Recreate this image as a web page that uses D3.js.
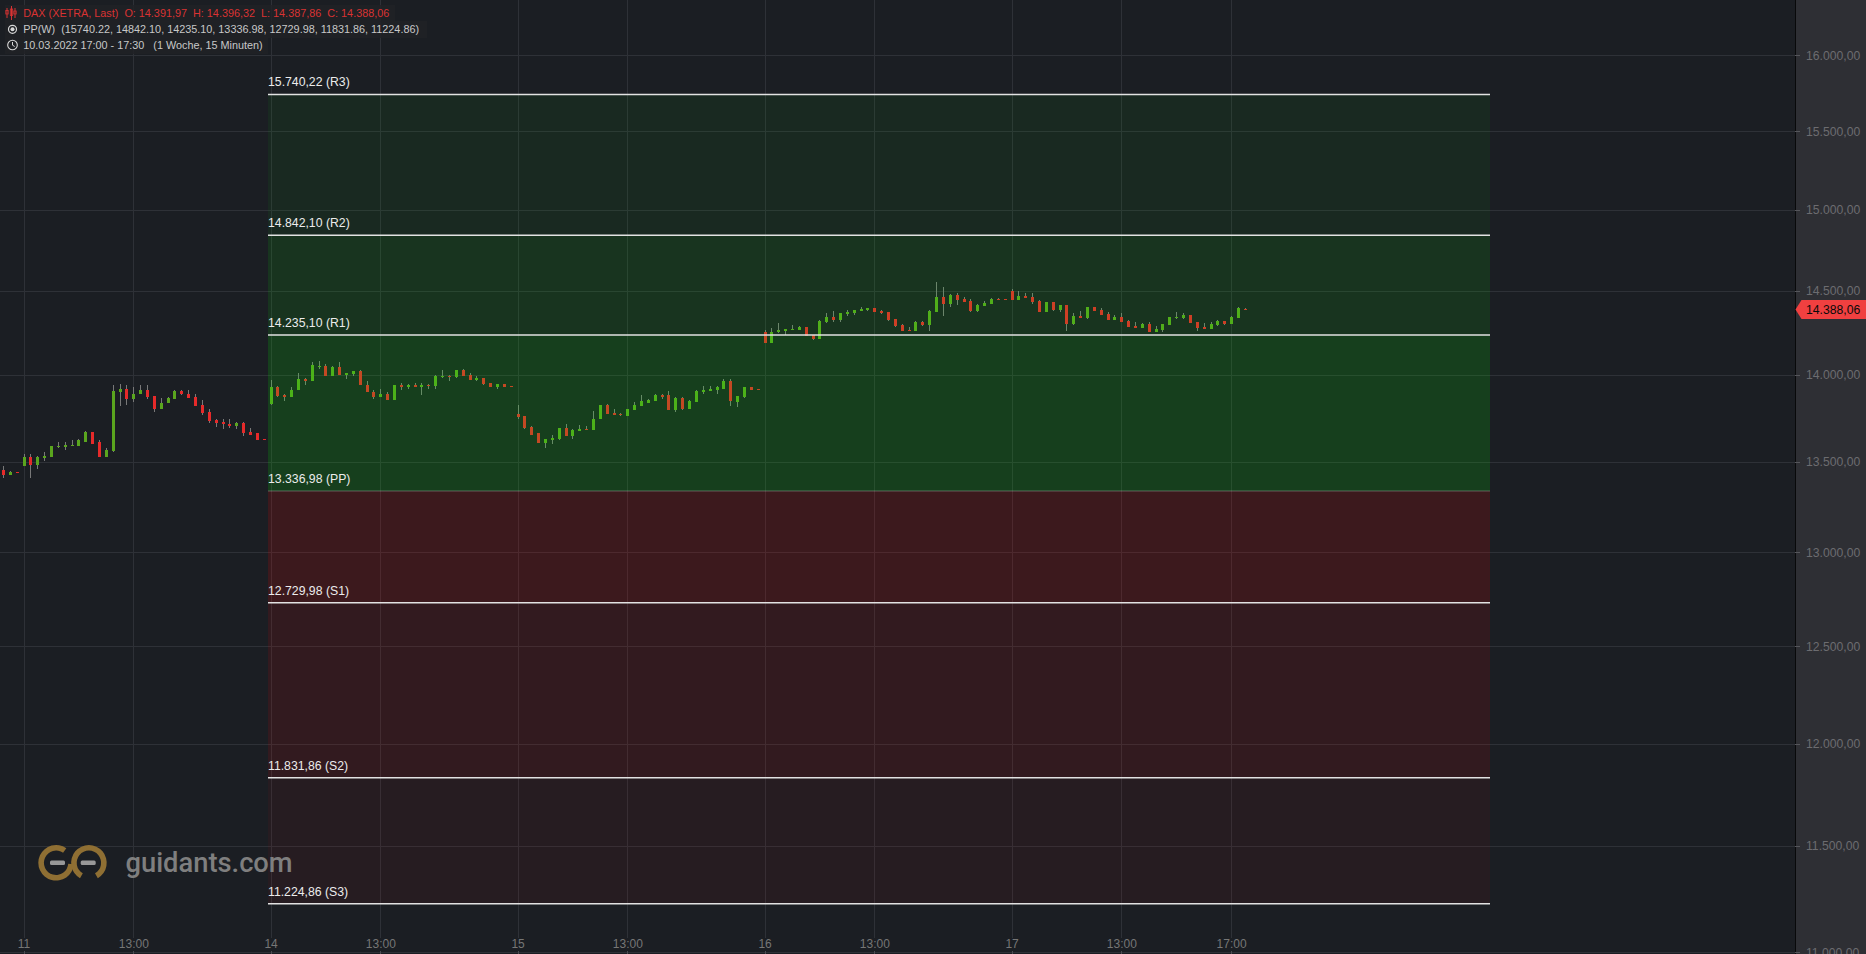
<!DOCTYPE html>
<html><head><meta charset="utf-8"><title>DAX</title>
<script src="https://cdn.jsdelivr.net/npm/d3@7/dist/d3.min.js"></script>
<style>html,body{margin:0;padding:0;background:#1b1e23;overflow:hidden}svg{display:block}text{font-family:"Liberation Sans",Arial,sans-serif}</style>
</head><body><svg id="c" width="1866" height="954"></svg>
<script>
// slot of the first candle relative to the "11" tick is -3; every day has 36 slots
const firstSlot = -3;
const opens = [13455,13426,13443,
13478,13528,13484,13524,13530,13587,13587,13593,13593,13616,13668,13616,13530,13564,13898,13916,13858,13887,13910,13875,13800,13835,13858,13904,13892,13869,13823,13783,13737,13725,13714,13702,13720,13668,13662,13633,
13829,13927,13881,13869,13910,13979,13967,14048,14054,13996,14048,14002,14008,14025,13944,13898,13869,13892,13852,13939,13927,13944,13927,13939,13933,13990,13996,13990,14031,14002,13973,13985,13956,13927,13950,13933,
13771,13760,13697,13662,13610,13627,13633,13691,13650,13674,13685,13679,13743,13823,13777,13771,13760,13795,13818,13835,13846,13881,13881,13795,13864,13800,13841,13898,13904,13915,13921,13967,13841,13869,13927,13921,
14253,14187,14253,14258,14264,14264,14282,14235,14211,14312,14342,14324,14359,14365,14377,14383,14395,14377,14371,14330,14294,14264,14258,14312,14294,14371,14466,14419,14478,14449,14437,14377,14407,14419,14454,14449,
14502,14448,14472,14466,14437,14371,14431,14383,14413,14300,14348,14336,14401,14383,14359,14324,14342,14318,14288,14276,14300,14252,14264,14294,14336,14336,14353,14312,14282,14270,14294,14318,14300,14336,14391.97];
const highs = [13478,13449,13443,
13547,13547,13535,13558,13593,13616,13616,13627,13633,13674,13668,13627,13581,13944,13950,13939,13927,13939,13944,13875,13864,13869,13910,13910,13910,13892,13852,13800,13743,13743,13743,13725,13725,13691,13662,13633,
13973,13933,13887,13927,14013,13985,14077,14083,14065,14054,14077,14013,14025,14031,13967,13910,13916,13898,13939,13956,13950,13956,13956,13950,14002,14031,14002,14031,14037,14013,13996,13985,13956,13950,13950,13933,
13823,13760,13702,13662,13633,13656,13691,13714,13685,13708,13702,13789,13823,13829,13800,13777,13800,13841,13881,13858,13892,13892,13904,13869,13869,13852,13910,13933,13933,13933,13979,13979,13875,13927,13927,13921,
14264,14276,14306,14270,14294,14288,14282,14235,14324,14365,14377,14365,14383,14383,14401,14395,14395,14383,14371,14330,14300,14282,14318,14318,14383,14555,14526,14484,14490,14466,14449,14419,14437,14460,14460,14449,
14514,14502,14490,14490,14448,14431,14431,14413,14413,14365,14377,14401,14401,14395,14371,14353,14365,14324,14312,14306,14312,14288,14300,14342,14371,14365,14353,14312,14306,14312,14324,14318,14348,14401,14396.32];
const lows = [13411,13426,13439,
13478,13411,13461,13507,13530,13581,13570,13593,13593,13616,13604,13530,13530,13558,13818,13823,13841,13887,13858,13783,13800,13835,13858,13881,13864,13818,13766,13720,13697,13685,13691,13685,13645,13651,13627,13627,
13823,13869,13846,13869,13910,13944,13967,14037,13996,13996,14002,13979,13996,13939,13898,13858,13869,13852,13852,13910,13921,13927,13881,13921,13916,13985,13967,13985,13996,13973,13967,13944,13927,13921,13927,13927,
13743,13685,13656,13610,13581,13604,13622,13650,13633,13674,13679,13679,13743,13771,13766,13760,13760,13795,13818,13835,13846,13858,13795,13783,13795,13800,13841,13887,13904,13892,13921,13818,13812,13864,13915,13915,
14187,14187,14247,14235,14264,14264,14229,14205,14211,14306,14312,14312,14348,14353,14377,14377,14371,14359,14318,14282,14258,14258,14258,14288,14258,14371,14348,14401,14413,14431,14371,14371,14407,14419,14443,14443,
14443,14448,14460,14419,14371,14371,14377,14371,14258,14294,14336,14330,14377,14353,14324,14324,14312,14282,14276,14276,14252,14252,14252,14294,14330,14330,14306,14258,14270,14270,14288,14294,14300,14336,14387.86];
const closes = [13426,13443,13439,
13530,13484,13530,13535,13593,13593,13599,13599,13627,13668,13604,13530,13570,13904,13916,13858,13892,13910,13869,13800,13835,13864,13904,13887,13864,13818,13777,13731,13720,13714,13702,13720,13662,13651,13627,13627,
13927,13875,13869,13910,13979,13967,14060,14054,13996,14048,14002,14013,14025,13939,13898,13869,13892,13852,13939,13927,13944,13927,13939,13933,13996,13996,13990,14031,13996,13973,13985,13950,13927,13950,13927,13927,
13754,13691,13656,13610,13633,13639,13691,13650,13679,13685,13679,13743,13823,13771,13766,13766,13800,13823,13846,13852,13881,13869,13795,13864,13800,13846,13904,13910,13921,13927,13967,13846,13875,13927,13915,13915,
14187,14253,14264,14270,14270,14282,14229,14211,14318,14342,14324,14365,14371,14383,14389,14395,14371,14365,14324,14288,14258,14258,14312,14294,14377,14466,14419,14478,14443,14431,14377,14413,14425,14454,14443,14443,
14448,14472,14460,14431,14371,14431,14383,14413,14300,14348,14336,14401,14377,14353,14324,14342,14312,14282,14276,14300,14252,14270,14300,14342,14342,14353,14306,14276,14270,14300,14318,14300,14342,14395,14388.06];

const pivotNames = ["R3","R2","R1","PP","S1","S2","S3"];
const pivotValues = [15740.22,14842.10,14235.10,13336.98,12729.98,11831.86,11224.86];
const zoneAlphas = [0.05,0.10,0.15,0.15,0.10,0.05];
const priceTicks = [16000,15500,15000,14500,14000,13500,13000,12500,12000,11500,11000];
const timeSlots = [0,16,36,52,72,88,108,124,144,160,176];
const timeLabels = ["11","13:00","14","13:00","15","13:00","16","13:00","17","13:00","17:00"];
const lastPrice = 14388.06;

const svg = d3.select("#c");
const W = 1866, H = 954, axisX = 1795;
const x = d3.scaleLinear().domain([0,144]).range([24.05,1012.05]);
const y = d3.scaleLog().domain([11000,16000]).range([952.3,55.3]);
const de = d3.formatLocale({decimal:",",thousands:".",grouping:[3],currency:["","€"]});
const fmt = de.format(",.2f");

svg.append("rect").attr("width",W).attr("height",H).attr("fill","#1b1e23");

// grid
const GRID = "#2e3137";
svg.append("g").selectAll("line").data(priceTicks).join("line")
  .attr("x1",0).attr("x2",axisX).attr("y1",d=>Math.round(y(d))+.5).attr("y2",d=>Math.round(y(d))+.5)
  .attr("stroke",GRID);
svg.append("g").selectAll("line").data(timeSlots).join("line")
  .attr("x1",d=>Math.floor(x(d))+.5).attr("x2",d=>Math.floor(x(d))+.5).attr("y1",0).attr("y2",938)
  .attr("stroke",GRID);

// candles
const idx = d3.range(opens.length);
const cx = i => Math.floor(x(i+firstSlot));
const candles = svg.append("g").attr("shape-rendering","crispEdges");
candles.selectAll("line").data(idx).join("line")
  .attr("x1",i=>cx(i)+.5).attr("x2",i=>cx(i)+.5)
  .attr("y1",i=>Math.round(y(highs[i]))).attr("y2",i=>Math.round(y(lows[i])))
  .attr("stroke","#787878");
candles.selectAll("rect").data(idx).join("rect")
  .attr("x",i=>cx(i)-1).attr("width",3)
  .attr("y",i=>Math.round(y(Math.max(opens[i],closes[i]))))
  .attr("height",i=>Math.max(1,Math.round(y(Math.min(opens[i],closes[i])))-Math.round(y(Math.max(opens[i],closes[i])))))
  .attr("fill",i=>closes[i]>=opens[i]?"#5aa51e":"#e62a2a");

// pivot zones drawn over the candles
const zx0 = 268, zx1 = 1490;
svg.append("g").selectAll("rect").data(zoneAlphas).join("rect")
  .attr("x",zx0).attr("width",zx1-zx0)
  .attr("y",(d,i)=>y(pivotValues[i])).attr("height",(d,i)=>y(pivotValues[i+1])-y(pivotValues[i]))
  .attr("fill",(d,i)=>i<3?"rgb(0,255,0)":"rgb(255,0,0)").attr("fill-opacity",d=>d);
svg.append("g").selectAll("line").data(pivotValues).join("line")
  .attr("x1",zx0).attr("x2",zx1).attr("y1",d=>y(d)).attr("y2",d=>y(d))
  .attr("stroke",(d,i)=>pivotNames[i]==="PP"?"rgba(255,255,255,.18)":"#e2e2e2")
  .attr("stroke-width",1.5);
svg.append("g").selectAll("text").data(pivotValues).join("text")
  .attr("x",zx0).attr("y",d=>y(d)-8).attr("font-size",12.25).attr("fill","#ececec")
  .text((d,i)=>`${fmt(d)} (${pivotNames[i]})`);

// header
const rows = [[5,5,390,17],[5,21,422,17],[5,37,263,17]];
svg.append("g").selectAll("rect").data(rows).join("rect")
  .attr("x",d=>d[0]).attr("y",d=>d[1]).attr("width",d=>d[2]).attr("height",d=>d[3])
  .attr("fill","#202226").attr("fill-opacity",.8);
const NB = "\u00A0";
const head = svg.append("g").attr("font-size",10.83);
head.append("text").attr("x",23.3).attr("y",17).attr("fill","#d93333")
  .text(`DAX (XETRA, Last)${NB}${NB}O: 14.391,97${NB}${NB}H: 14.396,32${NB}${NB}L: 14.387,86${NB}${NB}C: 14.388,06`);
head.append("text").attr("x",23.3).attr("y",33).attr("fill","#c8c8c8")
  .text(`PP(W)${NB}${NB}(15740.22, 14842.10, 14235.10, 13336.98, 12729.98, 11831.86, 11224.86)`);
head.append("text").attr("x",23.3).attr("y",49).attr("fill","#c8c8c8")
  .text(`10.03.2022 17:00 - 17:30${NB}${NB}${NB}(1 Woche, 15 Minuten)`);
// header icons
const ic = svg.append("g").attr("fill","none");
[[7,9,16,10.5,14],[11.5,7,18,9,15.5],[15,9,16,11,14]].forEach(a=>{
  ic.append("line").attr("x1",a[0]).attr("x2",a[0]).attr("y1",a[1]-1).attr("y2",a[2]+2).attr("stroke","#d93333");
  ic.append("rect").attr("x",a[0]-1.2).attr("width",2.4).attr("y",a[3]).attr("height",a[4]-a[3]).attr("stroke","#d93333").attr("stroke-width",.8);
});
ic.append("circle").attr("cx",12.5).attr("cy",29.3).attr("r",4).attr("stroke","#d8d8d8").attr("stroke-width",1.2);
ic.append("circle").attr("cx",12.5).attr("cy",29.3).attr("r",2).attr("fill","#d8d8d8");
ic.append("circle").attr("cx",12.5).attr("cy",45).attr("r",4.8).attr("stroke","#d8d8d8").attr("stroke-width",1.1);
ic.append("path").attr("d","M12.5 42v3.2l2.2 1.3").attr("stroke","#d8d8d8").attr("stroke-width",1);

// logo
const arc = d3.arc().innerRadius(12.2).outerRadius(17.8);
const rad = d => d*Math.PI/180;
const gold = "#8f6f33";
svg.append("path").attr("transform","translate(56.1,862.8)").attr("fill",gold)
  .attr("d",arc({startAngle:rad(95),endAngle:rad(395)}));
svg.append("path").attr("transform","translate(88.9,862.8)").attr("fill",gold)
  .attr("d",arc({startAngle:rad(210),endAngle:rad(510)}));
[[50,15],[80.7,15]].forEach(d=>svg.append("rect").attr("x",d[0]).attr("y",860.5).attr("width",d[1]).attr("height",4.6).attr("rx",1.5).attr("fill","#989898"));
svg.append("text").attr("x",125.5).attr("y",872).attr("font-size",27.3).attr("font-weight",500)
  .style("font-family","Roboto").attr("fill","#7f7f7f").text("guidants.com");

// x axis
const xAxis = d3.axisTop(x).tickValues(timeSlots).tickSize(3).tickPadding(3)
  .tickFormat(d=>timeLabels[timeSlots.indexOf(d)]);
const gx = svg.append("g").attr("transform",`translate(-0.5,${H})`).call(xAxis);
gx.select(".domain").remove();
gx.selectAll("text").attr("font-size",12).attr("fill","#767676").style("font-family",'"Liberation Sans"');
gx.selectAll("line").attr("stroke","#4a4c52").attr("shape-rendering","crispEdges");

// y axis panel
svg.append("rect").attr("x",axisX).attr("y",0).attr("width",W-axisX).attr("height",H).attr("fill","#2e2f34");
svg.append("line").attr("x1",axisX+.5).attr("x2",axisX+.5).attr("y1",0).attr("y2",H).attr("stroke","#08090a");
const yAxis = d3.axisRight(y).tickValues(priceTicks).tickSize(5).tickPadding(6).tickFormat(d=>fmt(d));
const gy = svg.append("g").attr("transform",`translate(${axisX},0)`).call(yAxis);
gy.select(".domain").remove();
gy.selectAll("text").attr("font-size",12.2).attr("fill","#6c6c70").style("font-family",'"Liberation Sans"');
gy.selectAll("line").attr("stroke","#55565b").attr("shape-rendering","crispEdges");

// last price marker
const ly = y(lastPrice);
svg.append("path").attr("fill","#f04040")
  .attr("d",d3.line()([[axisX+.5,ly],[axisX+6.5,ly-9.5],[W,ly-9.5],[W,ly+9.5],[axisX+6.5,ly+9.5]])+"Z");
svg.append("text").attr("x",1806).attr("y",ly+4.3).attr("font-size",12.2).attr("fill","#0a0a0a").text(fmt(lastPrice));
</script></body></html>
